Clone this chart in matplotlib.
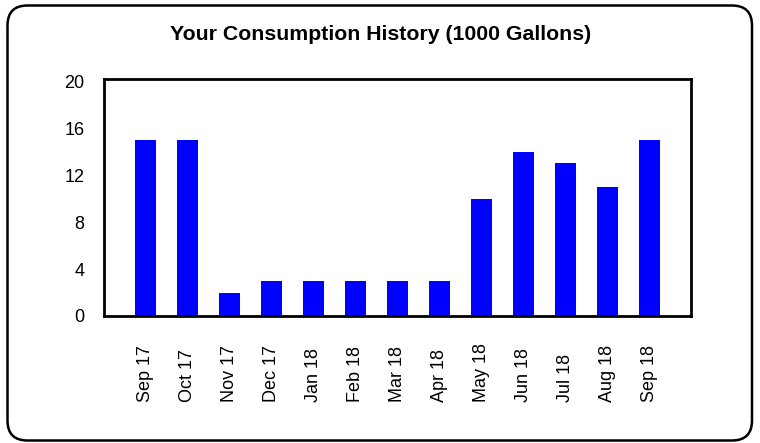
import matplotlib
matplotlib.use('Agg')
import matplotlib.pyplot as plt
import matplotlib.transforms as mtransforms
from matplotlib.patches import FancyBboxPatch

plt.rcParams['font.family'] = ['Liberation Sans', 'DejaVu Sans']

months = ['Sep 17', 'Oct 17', 'Nov 17', 'Dec 17', 'Jan 18', 'Feb 18', 'Mar 18',
          'Apr 18', 'May 18', 'Jun 18', 'Jul 18', 'Aug 18', 'Sep 18']
usage = [15, 15, 2, 3, 3, 3, 3, 3, 10, 14, 13, 11, 15]
yticks = [0, 4, 8, 12, 16, 20]

fig = plt.figure(figsize=(7.6, 4.43), dpi=100)

# rounded outer frame
frame = FancyBboxPatch((0.075, 0.025), 7.445, 4.35,
                       boxstyle='round,pad=0,rounding_size=0.2',
                       transform=fig.dpi_scale_trans, facecolor='none',
                       edgecolor='black', linewidth=1.8)
fig.patches.append(frame)

ax = fig.add_axes([104 / 760, 1 - 316 / 443, 587 / 760, 237 / 443])
x = list(range(len(months)))
ax.bar(x, usage, width=0.5, color='#0000ff')

ax.set_xlim(-1, len(months))
ax.set_ylim(0, 20.2)
ax.set_yticks(yticks)
ax.set_yticklabels([str(t) for t in yticks], fontsize=13)
ax.set_xticks([])
ax.tick_params(axis='y', length=0, pad=14)
for s in ax.spines.values():
    s.set_linewidth(2)
    s.set_color('black')

# month labels, rotated, starts aligned
trans = mtransforms.blended_transform_factory(ax.transData, fig.transFigure)
for xi, m in zip(x, months):
    ax.text(xi, 1 - 402 / 443, m, rotation=90, ha='center', va='bottom',
            fontsize=13, transform=trans, clip_on=False)

fig.text(381 / 760, 1 - 34 / 443, 'Your Consumption History (1000 Gallons)',
         ha='center', va='center', fontsize=15.3, fontweight='bold')

fig.savefig('out.png', dpi=100)
